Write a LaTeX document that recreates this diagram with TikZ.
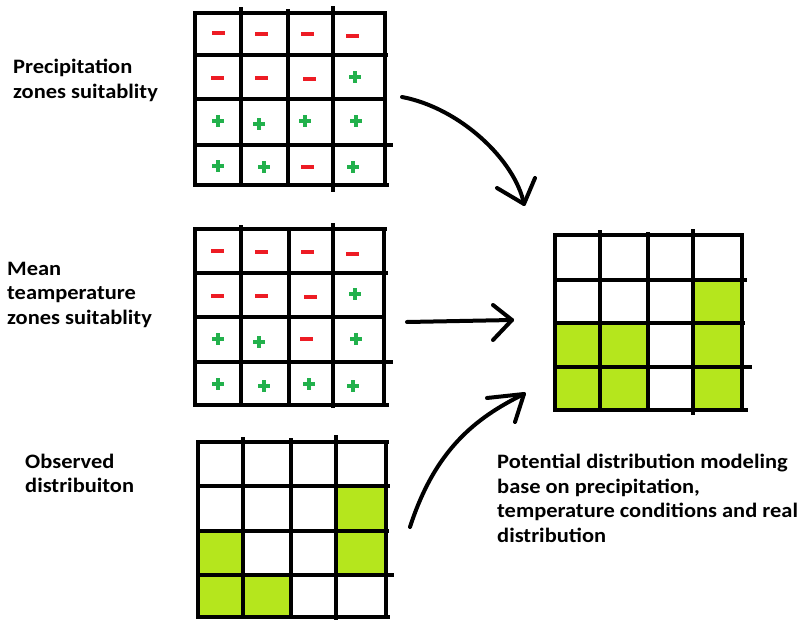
\documentclass[tikz,border=0pt]{standalone}
\usepackage{fontspec}
\setmainfont{Carlito}
\newfontfamily\lblfont{Carlito}[FakeStretch=1.095]
\usetikzlibrary{arrows.meta}
\definecolor{pred}{HTML}{ED1C24}
\definecolor{pgreen}{HTML}{22B14C}
\definecolor{plime}{HTML}{B5E61D}
\begin{document}
\begin{tikzpicture}[x=1pt,y=-1pt,
  gl/.style={line width=4pt},
  cell/.style={fill=plime},
  lbl/.style={font=\lblfont\bfseries\fontsize{20.5}{24.5}\selectfont, align=left, anchor=base west, inner sep=0pt},
  arr/.style={line width=4pt, line cap=round, line join=round},
  mns/.pic={\fill[pred] (-6.5,-2) rectangle (6.5,2);},
  pls/.pic={\fill[pgreen] (-6,-1.8) rectangle (6,1.8); \fill[pgreen] (-1.8,-6) rectangle (1.8,6);}
]
\useasboundingbox[fill=white] (0,0) rectangle (801,621);

% ---------- grid 1: precipitation ----------
\draw[gl] (193,13) -- (387,13);
\draw[gl] (193,55) -- (388,55);
\draw[gl] (193,99) -- (386,99);
\draw[gl] (193,145) -- (393,145);
\draw[gl] (193,185) -- (389,185);
\draw[gl] (195,11) -- (195,187);
\draw[gl] (241,7) -- (241,187);
\draw[gl] (288,9) -- (288,187);
\draw[gl] (333,6) -- (333,192);
\draw[gl] (385,11) -- (385,187);
\pic at (218,33) {mns}; \pic at (261,34) {mns}; \pic at (307,34) {mns}; \pic at (352,36) {mns};
\pic at (217,78) {mns}; \pic at (261,78) {mns}; \pic at (309,79) {mns}; \pic at (355,77) {pls};
\pic at (218,121) {pls}; \pic at (259,124) {pls}; \pic at (305,121) {pls}; \pic at (356,121) {pls};
\pic at (218,166) {pls}; \pic at (264,167) {pls}; \pic at (307,167) {mns}; \pic at (353,167) {pls};

% ---------- grid 2: temperature ----------
\draw[gl] (193,229) -- (387,229);
\draw[gl] (193,273) -- (388,273);
\draw[gl] (193,317) -- (386,317);
\draw[gl] (193,362) -- (393,362);
\draw[gl] (193,405) -- (389,405);
\draw[gl] (195,227) -- (195,407);
\draw[gl] (241,225) -- (241,407);
\draw[gl] (289,227) -- (289,407);
\draw[gl] (333,223) -- (333,408);
\draw[gl] (384,227) -- (384,407);
\pic at (217,251) {mns}; \pic at (261,252) {mns}; \pic at (307,252) {mns}; \pic at (352,254) {mns};
\pic at (217,296) {mns}; \pic at (261,296) {mns}; \pic at (310,297) {mns}; \pic at (355,294) {pls};
\pic at (218,339) {pls}; \pic at (259,342) {pls}; \pic at (306,339) {mns}; \pic at (356,339) {pls};
\pic at (218,384) {pls}; \pic at (264,386) {pls}; \pic at (309,384) {pls}; \pic at (353,386) {pls};

% ---------- grid 3: observed ----------
\fill[cell] (336,486) rectangle (386,531);
\fill[cell] (198,531) rectangle (243,575);
\fill[cell] (336,531) rectangle (386,575);
\fill[cell] (198,575) rectangle (243,617);
\fill[cell] (243,575) rectangle (291,617);
\draw[gl] (196,442) -- (389,442);
\draw[gl] (196,486) -- (390,486);
\draw[gl] (196,531) -- (389,531);
\draw[gl] (196,575) -- (394,575);
\draw[gl] (196,617) -- (390,617);
\draw[gl] (198,440) -- (198,619);
\draw[gl] (243,437) -- (243,619);
\draw[gl] (291,438) -- (291,619);
\draw[gl] (336,435) -- (336,620);
\draw[gl] (386,440) -- (386,619);

% ---------- grid 4: potential ----------
\fill[cell] (693,280) rectangle (742,323);
\fill[cell] (555,323) rectangle (600,367);
\fill[cell] (600,323) rectangle (648,367);
\fill[cell] (693,323) rectangle (742,367);
\fill[cell] (555,367) rectangle (600,410);
\fill[cell] (600,367) rectangle (648,410);
\fill[cell] (693,367) rectangle (742,410);
\draw[gl] (553,235) -- (744,235);
\draw[gl] (553,280) -- (747,280);
\draw[gl] (553,323) -- (745,323);
\draw[gl] (553,367) -- (752,367);
\draw[gl] (553,410) -- (748,410);
\draw[gl] (555,233) -- (555,412);
\draw[gl] (600,230) -- (600,412);
\draw[gl] (648,232) -- (648,412);
\draw[gl] (693,229) -- (693,415);
\draw[gl] (742,233) -- (742,412);

% ---------- labels (anchored at baseline of last line) ----------
\node[lbl] (tprec) at (13,98) {Precipitation\\zones suitablity};
\node[lbl] (ttemp) at (7,324) {Mean\\teamperature\\zones suitablity};
\node[lbl] (tobs) at (25,492.5) {Observed\\distribuiton};
\node[lbl] (tpot) at (497,542) {Potential distribution modeling\\base on precipitation,\\temperature conditions and real\\distribution};

% ---------- arrows ----------
\coordinate (a1s) at (402,97);
\coordinate (a1e) at (524,204);
\coordinate (a1l) at (497,188);
\coordinate (a1r) at (535,178);
\coordinate (a2s) at (407,322);
\coordinate (a2e) at (512,320);
\coordinate (a2l) at (493,305);
\coordinate (a2r) at (493,340);
\coordinate (a3s) at (410,527);
\coordinate (a3e) at (524,394);
\coordinate (a3l) at (487,398);
\coordinate (a3r) at (515,422);
\draw[arr] (a1s) .. controls (460,108) and (515,160) .. (a1e);
\draw[arr] (a1l) -- (a1e) -- (a1r);
\draw[arr] (a2s) -- (a2e);
\draw[arr] (a2l) -- (a2e) -- (a2r);
\draw[arr] (a3s) .. controls (435,450) and (475,418) .. (a3e);
\draw[arr] (a3l) -- (a3e) -- (a3r);
\end{tikzpicture}
\end{document}
